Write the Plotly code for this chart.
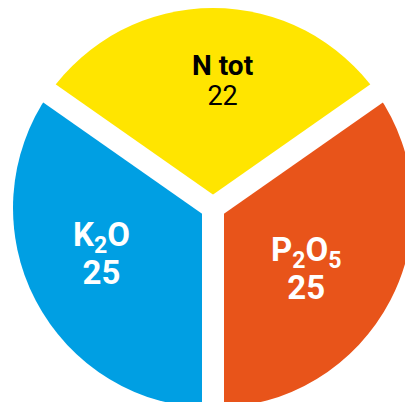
import math
import plotly.graph_objects as go

labels = ["N tot", "P<sub>2</sub>O<sub>5</sub>", "K<sub>2</sub>O"]
values = [22, 25, 25]
colors = ["#FFE500", "#E8541A", "#009FE3"]
text_colors = ["#000000", "#FFFFFF", "#FFFFFF"]

W, H = 430, 420
CX, CY, R = 213, 208, 200          # pie centre / radius in px
GAP = 22                            # white gap width in px
START = -55                         # first slice start angle (deg, clockwise from 12 o'clock)

FONT = "Roboto, Arial, sans-serif"

fig = go.Figure(go.Pie(
    labels=labels,
    values=values,
    sort=False,
    direction="clockwise",
    rotation=START,
    marker=dict(colors=colors, line=dict(width=0)),
    textinfo="none",
    hoverinfo="skip",
    showlegend=False,
    domain=dict(x=[(CX - R) / W, (CX + R) / W],
                y=[1 - (CY + R) / H, 1 - (CY - R) / H]),
))

# white gaps along slice boundaries (angles derived from values)
total = sum(values)
acc = 0
shapes = []
for v in values:
    ang = math.radians(START + 360 * acc / total)
    L = R + 40
    x0, y0 = CX / W, 1 - CY / H
    x1 = (CX + math.sin(ang) * L) / W
    y1 = 1 - (CY - math.cos(ang) * L) / H
    shapes.append(dict(type="line", xref="paper", yref="paper",
                       x0=x0, y0=y0, x1=x1, y1=y1,
                       line=dict(color="white", width=GAP), layer="above"))
    acc += v


def ann(label, value, x, y, base, lsize, vsize, color, vbold):
    v = f"<b>{value}</b>" if vbold else str(value)
    text = (f"<span style='font-size:{lsize}px'><b>{label}</b></span><br>"
            f"<span style='font-size:{vsize}px'>{v}</span>")
    return dict(text=text, x=x / W, y=1 - y / H, xref="paper", yref="paper",
                xanchor="center", yanchor="middle", showarrow=False,
                align="center",
                font=dict(family=FONT, size=base, color=color))


annotations = [
    ann(labels[0], values[0], 222, 80, 23, 28, 27, text_colors[0], False),
    ann(labels[2], values[2], 101, 253, 29, 33, 33, text_colors[2], True),
    ann(labels[1], values[1], 306, 268, 29, 33, 33, text_colors[1], True),
]

fig.update_layout(
    width=W, height=H,
    margin=dict(l=0, r=0, t=0, b=0),
    paper_bgcolor="white", plot_bgcolor="white",
    shapes=shapes, annotations=annotations,
)

fig.write_html(
    "out.html",
    config={"displayModeBar": False},
    post_script="document.body.style.margin='0';document.body.style.overflow='hidden';"
                "document.documentElement.style.overflow='hidden';",
)
